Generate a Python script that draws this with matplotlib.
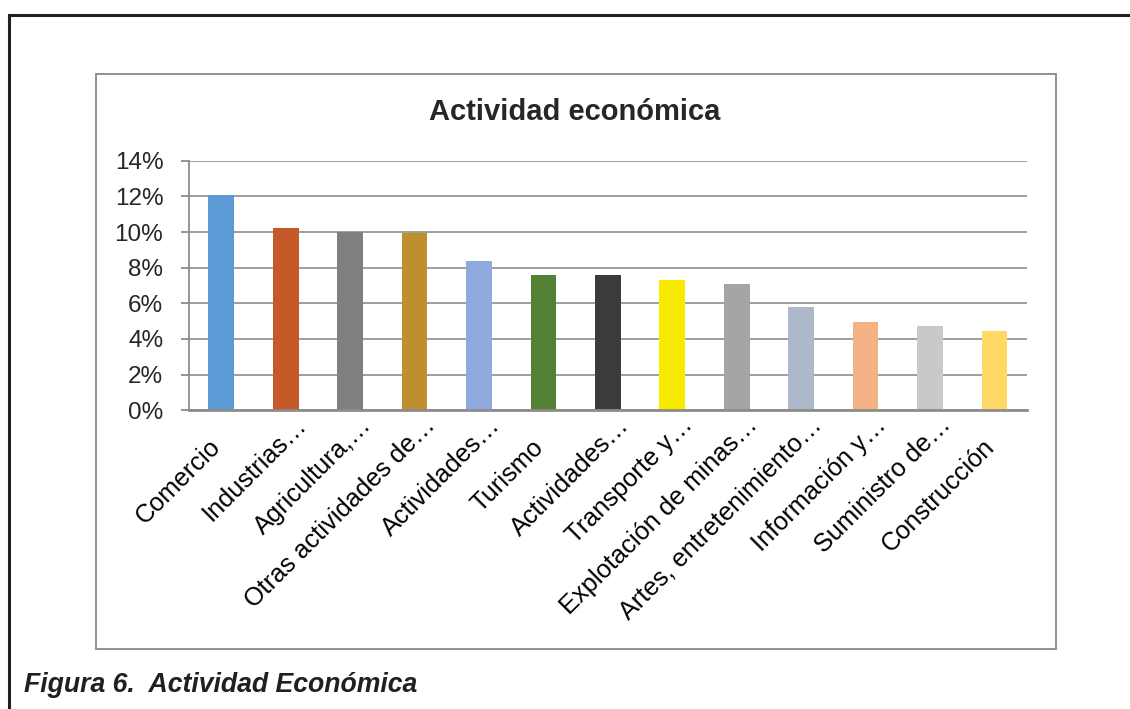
import matplotlib
matplotlib.use("Agg")
import matplotlib.pyplot as plt
from matplotlib.patches import Rectangle
from matplotlib.lines import Line2D
from matplotlib.ticker import PercentFormatter
from matplotlib.transforms import ScaledTranslation

plt.rcParams['font.family'] = ['Liberation Sans', 'DejaVu Sans']

categories = ["Comercio", "Industrias…", "Agricultura,…", "Otras actividades de…",
              "Actividades…", "Turismo", "Actividades…", "Transporte y…",
              "Explotación de minas…", "Artes, entretenimiento…", "Información y…",
              "Suministro de…", "Construcción"]
values = [12.07, 10.22, 9.98, 9.97, 8.37, 7.59, 7.59, 7.31, 7.08, 5.79, 4.95, 4.73, 4.45]
colors = ["#5B9BD5", "#C55A28", "#7F7F7F", "#BF8F2F", "#8FAADC", "#548235", "#3B3B3B",
          "#F5EA00", "#A5A5A5", "#ADB9CA", "#F4B183", "#C9C9C9", "#FFD966"]
yticks = [0, 2, 4, 6, 8, 10, 12, 14]

W, H = 1130, 709
fig = plt.figure(figsize=(W / 100, H / 100), dpi=100)

# outer frame (left and top lines)
fig.add_artist(Line2D([9 / W, 9 / W], [0, 1 - 15 / H], transform=fig.transFigure,
                      color="#231F20", lw=2.2))
fig.add_artist(Line2D([9 / W, 1], [1 - 15 / H, 1 - 15 / H], transform=fig.transFigure,
                      color="#231F20", lw=2.2))
# chart box
fig.add_artist(Rectangle((95.5 / W, 1 - 649 / H), (1055.7 - 95.5) / W, (649 - 73.5) / H,
                         transform=fig.transFigure, fill=False, edgecolor="#898989", lw=1.3))

ax = fig.add_axes([189 / W, 1 - 410.3 / H, (1026.7 - 189) / W, (410.3 - 160.7) / H])
x = range(len(categories))
ax.bar(x, values, width=0.4, color=colors, zorder=3)
ax.set_xlim(-0.5, len(categories) - 0.5)
ax.set_ylim(0, 14)
ax.set_yticks(yticks)
ax.yaxis.set_major_formatter(PercentFormatter(decimals=0))
ax.grid(axis='y', color="#969696", lw=1.3, zorder=0)
ax.set_axisbelow(True)
for s in ['top', 'right']:
    ax.spines[s].set_visible(False)
ax.spines['left'].set_color("#8C8C8C")
ax.spines['left'].set_linewidth(1.3)
ax.spines['bottom'].set_color("#8C8C8C")
ax.spines['bottom'].set_linewidth(2.0)
ax.spines['bottom'].set_zorder(4)
ax.tick_params(axis='y', length=5.5, width=1.3, color="#8C8C8C", pad=13,
               labelsize=17.5, labelcolor="#262626")
ax.tick_params(axis='x', length=0, pad=0, labelsize=18.3, labelcolor="#000000")
ax.set_xticks(list(x))
ax.set_xticklabels(categories, rotation=45, ha='right', va='baseline', rotation_mode='anchor')
for lbl in ax.get_xticklabels():
    if lbl.get_text().endswith("…"):
        dx, dy = 22, -16
    else:
        dx, dy = 1, -38
    lbl.set_transform(lbl.get_transform() + ScaledTranslation(dx / 100, dy / 100, fig.dpi_scale_trans))

fig.text(575 / W, 1 - 112 / H, "Actividad económica", ha='center', va='center',
         fontsize=21, fontweight='bold', color="#262626")
fig.text(24 / W, 1 - 692.5 / H, "Figura 6.  Actividad Económica", ha='left', va='baseline',
         fontsize=19.2, fontweight='bold', fontstyle='italic', color="#231F20")

fig.savefig("out.png", dpi=100)
